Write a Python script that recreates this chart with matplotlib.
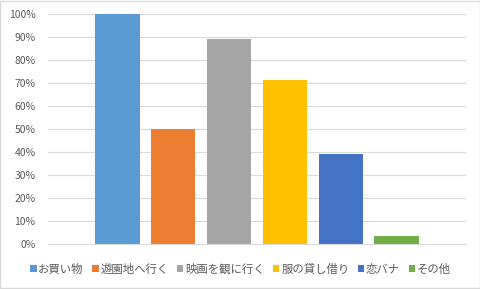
import matplotlib
matplotlib.use('Agg')
import matplotlib.pyplot as plt
from matplotlib.patches import Patch, Rectangle
from matplotlib.ticker import PercentFormatter

plt.rcParams['font.family'] = ['Noto Sans CJK JP', 'DejaVu Sans']

# data (answers out of 28 respondents, shown as share)
labels = ['お買い物', '遊園地へ行く', '映画を観に行く', '服の貸し借り', '恋バナ', 'その他']
values = [1.000, 0.500, 0.893, 0.714, 0.393, 0.034]
colors = ['#5B9BD5', '#ED7D31', '#A5A5A5', '#FFC000', '#4472C4', '#70AD47']
yticks = [i / 10 for i in range(11)]

fig = plt.figure(figsize=(4.81, 2.89), dpi=100)
ax = fig.add_axes([48 / 481, 45.3 / 289, 418 / 481, 229.4 / 289])

for i, (lab, v, c) in enumerate(zip(labels, values, colors)):
    ax.bar(i, v, width=0.79, color=c, zorder=2)

ax.set_xlim(-1.245, 6.245)
ax.set_ylim(0, 1)
ax.set_yticks(yticks)
ax.yaxis.set_major_formatter(PercentFormatter(1.0, decimals=0))
ax.set_xticks([])
ax.grid(axis='y', color='#D9D9D9', linewidth=0.8, zorder=0)
ax.tick_params(axis='y', length=0, pad=9, labelsize=7.5, labelcolor='#595959')
for s in ['top', 'right', 'left']:
    ax.spines[s].set_visible(False)
ax.spines['bottom'].set_color('#D9D9D9')
ax.spines['bottom'].set_linewidth(0.8)

handles = [Patch(facecolor=c, label=l) for l, c in zip(labels, colors)]
leg = fig.legend(handles=handles, loc='center', bbox_to_anchor=(0.5, 1 - 269 / 289),
                 ncol=6, frameon=False, fontsize=8.2, handlelength=0.55, handleheight=0.55,
                 handletextpad=0.15, columnspacing=0.75, labelcolor='#595959')

fig.patches.append(Rectangle((0.001, 0.002), 0.997, 0.995, transform=fig.transFigure,
                             fill=False, edgecolor='#D9D9D9', linewidth=1))

fig.savefig('out.png', dpi=100)
